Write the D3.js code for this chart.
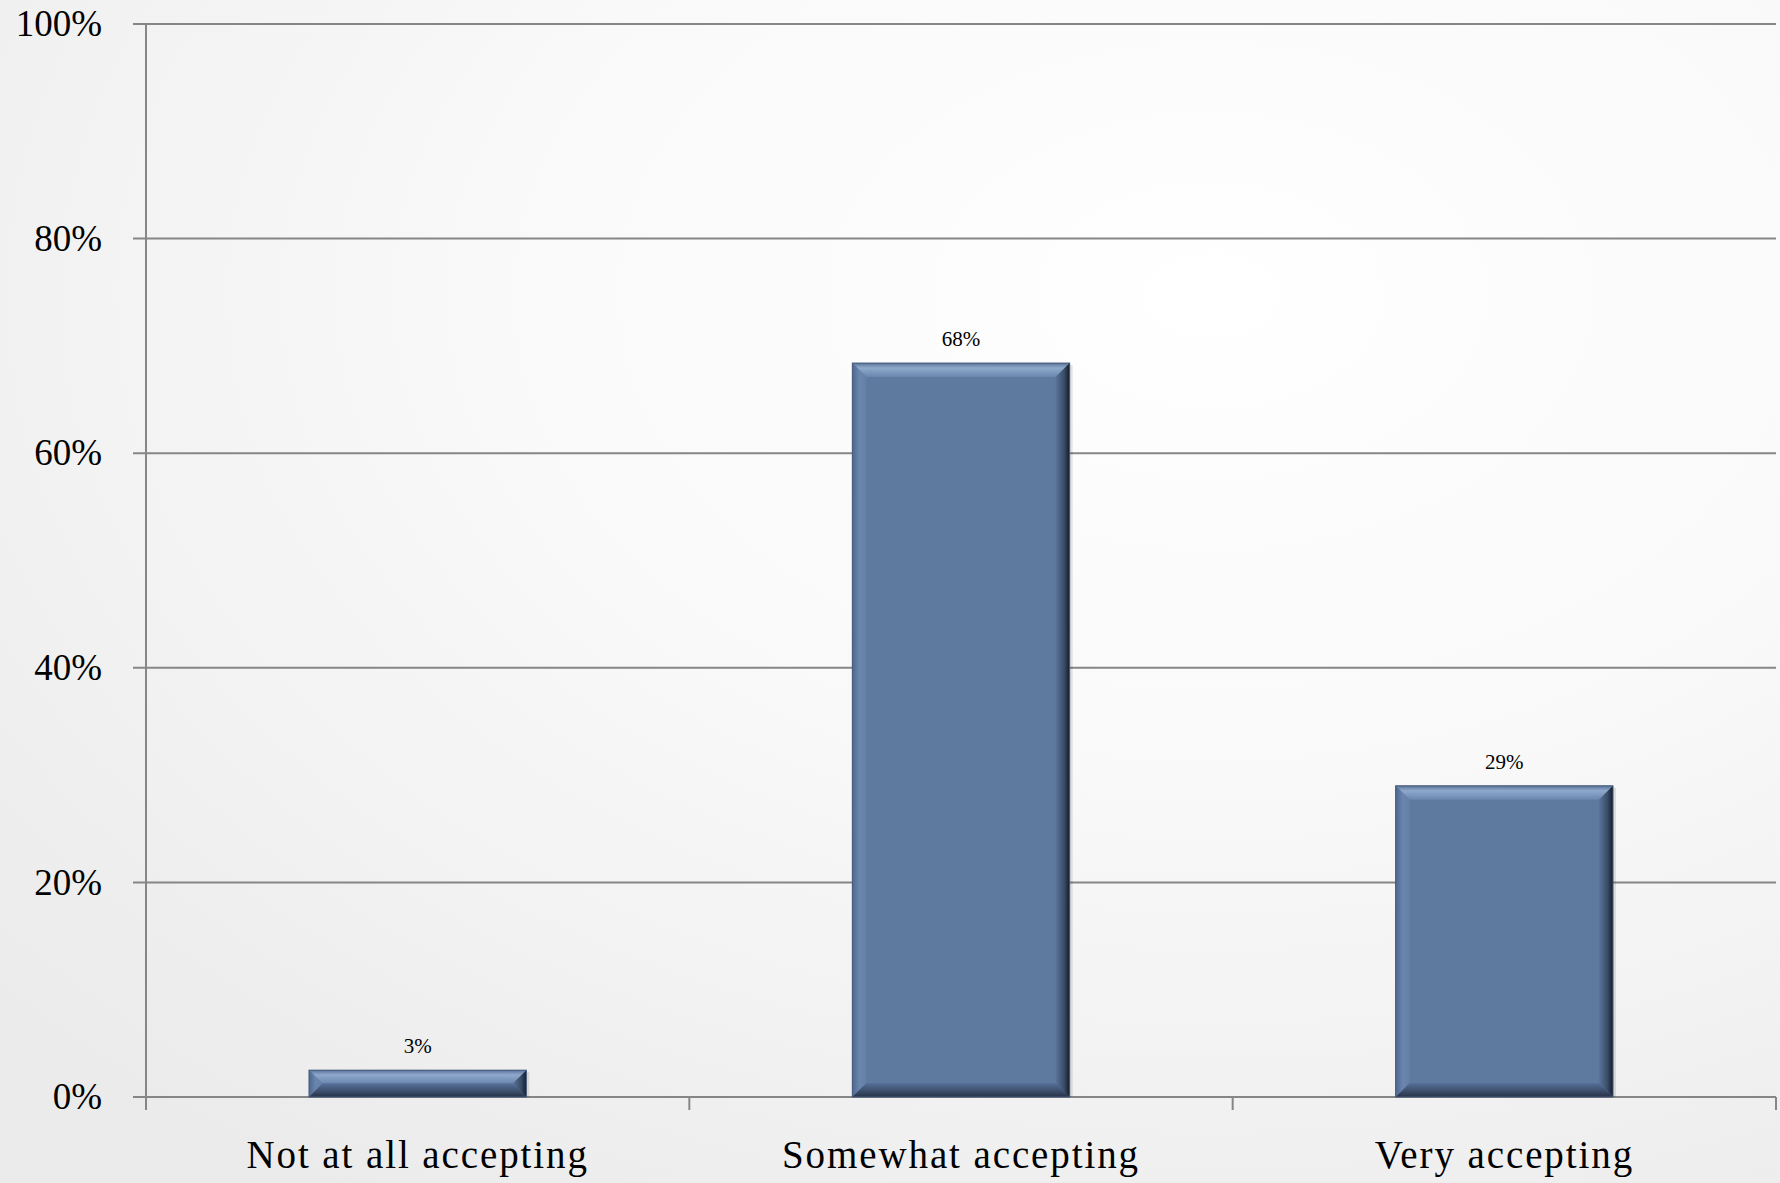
<!DOCTYPE html>
<html>
<head>
<meta charset="utf-8">
<script src="https://cdn.jsdelivr.net/npm/d3@7"></script>
<style>
  html, body { margin: 0; padding: 0; }
  body { width: 1780px; height: 1183px; overflow: hidden; }
  svg { display: block; }
</style>
</head>
<body>
<svg id="chart" width="1780" height="1183"></svg>
<script>
const categories = ["Not at all accepting", "Somewhat accepting", "Very accepting"];
const values = [2.5, 68.4, 29];
const valueLabels = ["3%", "68%", "29%"];
const yTicks = [0, 20, 40, 60, 80, 100];
const yTickLabels = ["0%", "20%", "40%", "60%", "80%", "100%"];

const W = 1780, H = 1183;
const margin = { top: 24, right: 4, bottom: 86, left: 146 };
const svg = d3.select("#chart");

const defs = svg.append("defs");
const bg = defs.append("radialGradient").attr("id", "bg")
  .attr("cx", "0.68").attr("cy", "0.25").attr("r", "0.9");
bg.append("stop").attr("offset", "0").attr("stop-color", "#ffffff");
bg.append("stop").attr("offset", "0.45").attr("stop-color", "#f9f9f9");
bg.append("stop").attr("offset", "1").attr("stop-color", "#ebebeb");
svg.append("rect").attr("width", W).attr("height", H).attr("fill", "url(#bg)");

function lin(id, x2, y2, stops) {
  const g = defs.append("linearGradient").attr("id", id)
    .attr("x1", 0).attr("y1", 0).attr("x2", x2).attr("y2", y2);
  stops.forEach(s => g.append("stop").attr("offset", s[0]).attr("stop-color", s[1]));
}
lin("bTop", 0, 1, [[0, "#5a7398"], [0.35, "#8fa9cc"], [1, "#6a86ad"]]);
lin("bLeft", 1, 0, [[0, "#4e6890"], [0.5, "#6a86ad"], [1, "#6580a6"]]);
lin("bRight", 1, 0, [[0, "#5a7499"], [0.6, "#3a4d69"], [1, "#141b27"]]);
lin("bBottom", 0, 1, [[0, "#56709a"], [0.6, "#3b4d68"], [1, "#26324a"]]);

const x = d3.scaleBand().domain(categories)
  .range([margin.left, W - margin.right])
  .paddingInner(0.6).paddingOuter(0.3);
const xCell = d3.scaleBand().domain(categories)
  .range([margin.left, W - margin.right]).padding(0);
const y = d3.scaleLinear().domain([0, 100]).range([H - margin.bottom, margin.top]);

const gridColor = "#868686";
const tickLen = 13;
const font = "'Liberation Serif', 'Times New Roman', serif";

svg.append("g").selectAll("line").data(yTicks).join("line")
  .attr("x1", margin.left - tickLen).attr("x2", W - margin.right)
  .attr("y1", d => y(d)).attr("y2", d => y(d))
  .attr("stroke", gridColor).attr("stroke-width", 2);

svg.append("line")
  .attr("x1", margin.left).attr("x2", margin.left)
  .attr("y1", y(100)).attr("y2", y(0) + tickLen)
  .attr("stroke", gridColor).attr("stroke-width", 2);

const bounds = categories.map(c => xCell(c)).concat([xCell(categories[categories.length - 1]) + xCell.bandwidth()]);
svg.append("g").selectAll("line").data(bounds).join("line")
  .attr("x1", d => d).attr("x2", d => d)
  .attr("y1", y(0)).attr("y2", y(0) + tickLen)
  .attr("stroke", gridColor).attr("stroke-width", 2);

svg.append("g").selectAll("text").data(yTicks).join("text")
  .attr("x", 102).attr("y", d => y(d) + 37 * 0.33)
  .attr("text-anchor", "end")
  .attr("font-family", font).attr("font-size", 37).attr("fill", "#000")
  .text((d, i) => yTickLabels[i]);

svg.append("g").selectAll("text").data(categories).join("text")
  .attr("x", d => xCell(d) + xCell.bandwidth() / 2).attr("y", 1168)
  .attr("text-anchor", "middle")
  .attr("font-family", font).attr("font-size", 39).attr("letter-spacing", 1.9)
  .attr("fill", "#000")
  .text(d => d);

const barG = svg.append("g");
categories.forEach((c, i) => {
  const x0 = x(c), x1 = x(c) + x.bandwidth();
  const y0 = y(values[i]), y1 = y(0);
  const h = y1 - y0;
  const b = Math.min(14, h / 2);
  const g = barG.append("g");
  g.append("rect").attr("x", x0 + 3).attr("y", y0 + 2).attr("width", x1 - x0).attr("height", h - 2)
    .attr("fill", "#000").attr("opacity", 0.1);
  g.append("rect").attr("x", x0).attr("y", y0).attr("width", x1 - x0).attr("height", h).attr("fill", "#5f7a9f");
  g.append("polygon").attr("points", [[x0, y0], [x1, y0], [x1 - b, y0 + b], [x0 + b, y0 + b]].join(" "))
    .attr("fill", "url(#bTop)");
  g.append("polygon").attr("points", [[x0, y0], [x0 + b, y0 + b], [x0 + b, y1 - b], [x0, y1]].join(" "))
    .attr("fill", "url(#bLeft)");
  g.append("polygon").attr("points", [[x1, y0], [x1, y1], [x1 - b, y1 - b], [x1 - b, y0 + b]].join(" "))
    .attr("fill", "url(#bRight)");
  g.append("polygon").attr("points", [[x0, y1], [x0 + b, y1 - b], [x1 - b, y1 - b], [x1, y1]].join(" "))
    .attr("fill", "url(#bBottom)");
  g.append("rect").attr("x", x0).attr("y", y0).attr("width", x1 - x0).attr("height", h)
    .attr("fill", "none").attr("stroke", "#44587a").attr("stroke-width", 1);
  g.append("text").attr("x", (x0 + x1) / 2).attr("y", y0 - 17)
    .attr("text-anchor", "middle").attr("font-family", font).attr("font-size", 21)
    .attr("fill", "#000").text(valueLabels[i]);
});
</script>
</body>
</html>
